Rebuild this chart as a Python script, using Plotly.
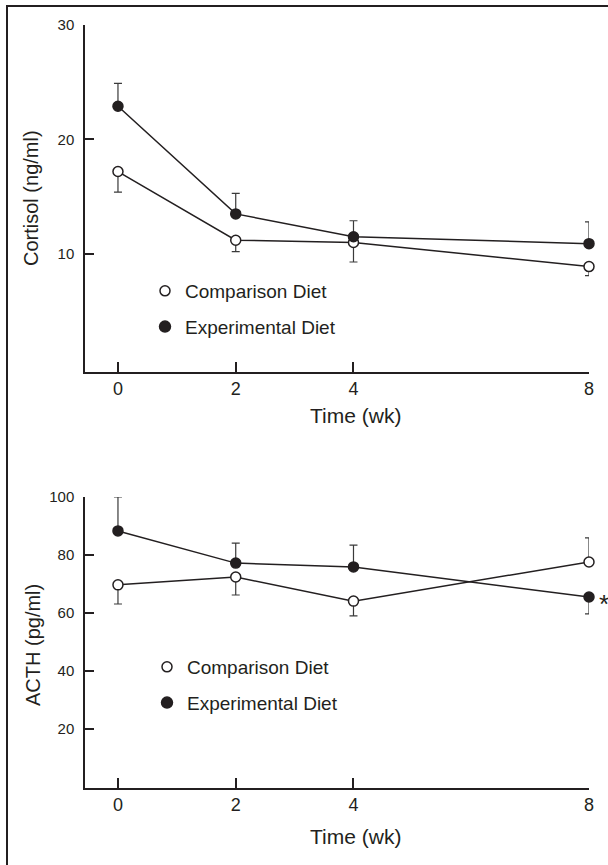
import plotly.graph_objects as go

# ---------------- data ----------------
weeks = [0, 2, 4, 8]
x_ticks = [0, 2, 4, 8]

cortisol_comp = [17.2, 11.2, 11.0, 8.9]
cortisol_comp_err_plus = [0, 0, 0, 0]
cortisol_comp_err_minus = [1.8, 1.0, 1.7, 0.8]
cortisol_exp = [22.9, 13.5, 11.5, 10.9]
cortisol_exp_err_plus = [2.0, 1.8, 1.4, 1.9]
cortisol_exp_err_minus = [0, 0, 0, 0]
cortisol_ticks = [10, 20, 30]

acth_comp = [69.7, 72.4, 64.1, 77.6]
acth_comp_err_plus = [0, 0, 0, 8.3]
acth_comp_err_minus = [6.6, 6.2, 5.1, 0]
acth_exp = [88.3, 77.2, 75.9, 65.5]
acth_exp_err_plus = [11.7, 6.9, 7.5, 0]
acth_exp_err_minus = [0, 0, 0, 5.8]
acth_ticks = [20, 40, 60, 80, 100]

series_names = ["Comparison Diet", "Experimental Diet"]

# ---------------- layout helpers ----------------
W, H = 608, 865
INK = "#231f20"
FONT = "Liberation Sans, Arial, Helvetica, sans-serif"

def px_x(p):
    return p / W

def px_y(p):
    return (H - p) / H

fig = go.Figure()

def add_series(xa, ya, y, ep, em, filled):
    fig.add_trace(go.Scatter(
        x=weeks, y=y, xaxis=xa, yaxis=ya, mode="lines+markers",
        line=dict(color=INK, width=1.5),
        marker=dict(size=10, symbol="circle",
                    color=INK if filled else "white",
                    line=dict(color=INK, width=1.5)),
        error_y=dict(type="data", symmetric=False, array=ep, arrayminus=em,
                     color="#3a3a3a", thickness=1.2, width=4),
        showlegend=False, cliponaxis=False,
    ))

add_series("x", "y", cortisol_comp, cortisol_comp_err_plus, cortisol_comp_err_minus, False)
add_series("x", "y", cortisol_exp, cortisol_exp_err_plus, cortisol_exp_err_minus, True)
add_series("x2", "y2", acth_comp, acth_comp_err_plus, acth_comp_err_minus, False)
add_series("x2", "y2", acth_exp, acth_exp_err_plus, acth_exp_err_minus, True)

# legend-only entries
for lg, xa, ya in [("legend", "x", "y"), ("legend2", "x2", "y2")]:
    for i, name in enumerate(series_names):
        filled = i == 1
        fig.add_trace(go.Scatter(
            x=[None], y=[None], xaxis=xa, yaxis=ya, mode="markers", name=name,
            marker=dict(size=11 if filled else 10, color=INK if filled else "white",
                        line=dict(color=INK, width=1.5)),
            legend=lg, legendgroup=lg + str(i), showlegend=True,
        ))

x_dom = [px_x(85), px_x(589)]
top_dom = [px_y(372), px_y(25)]
bot_dom = [px_y(788), px_y(497)]

xaxis_common = dict(
    range=[-0.56, 8], tickvals=x_ticks, ticktext=[str(v) for v in x_ticks],
    ticks="inside", ticklen=10, tickwidth=1.5, tickcolor=INK,
    showline=True, linecolor=INK, linewidth=1.5, showgrid=False, zeroline=False,
    tickfont=dict(size=18, color=INK, family=FONT), domain=x_dom, automargin=False,
)
yaxis_common = dict(
    ticks="inside", ticklen=9, tickwidth=1.5, tickcolor=INK,
    showline=True, linecolor=INK, linewidth=1.5, showgrid=False, zeroline=False,
    tickfont=dict(size=15, color=INK, family=FONT), ticklabelstandoff=6,
    automargin=False,
)

legend_common = dict(
    font=dict(size=19, color=INK, family=FONT), bgcolor="rgba(0,0,0,0)",
    borderwidth=0, itemwidth=30, tracegroupgap=8, traceorder="grouped",
    xanchor="left", yanchor="top", itemclick=False,
)

fig.update_layout(
    width=W, height=H, margin=dict(l=0, r=0, t=0, b=0, autoexpand=False),
    paper_bgcolor="white", plot_bgcolor="white",
    font=dict(family=FONT, color=INK),
    xaxis=dict(**xaxis_common, anchor="y"),
    yaxis=dict(**yaxis_common, range=[-0.31, 30], tickvals=cortisol_ticks,
               domain=top_dom, anchor="x"),
    xaxis2=dict(**xaxis_common, anchor="y2"),
    yaxis2=dict(**yaxis_common, range=[-0.34, 100], tickvals=acth_ticks,
                domain=bot_dom, anchor="x2"),
    legend=dict(**legend_common, x=px_x(145), y=px_y(272)),
    legend2=dict(**legend_common, x=px_x(147), y=px_y(648)),
    showlegend=True,
)

ann_font = dict(family=FONT, color=INK)
annotations = [
    dict(text="Cortisol (ng/ml)", x=px_x(31), y=px_y(198), textangle=-90,
         font=dict(size=20, **ann_font)),
    dict(text="ACTH (pg/ml)", x=px_x(33), y=px_y(645), textangle=-90,
         font=dict(size=20, **ann_font)),
    dict(text="Time (wk)", x=px_x(355), y=px_y(415), font=dict(size=21, **ann_font)),
    dict(text="Time (wk)", x=px_x(355), y=px_y(836), font=dict(size=21, **ann_font)),
]
for a in annotations:
    a.update(xref="paper", yref="paper", showarrow=False, xanchor="center", yanchor="middle")
    fig.add_annotation(**a)

# significance asterisk next to last Experimental ACTH point
fig.add_annotation(text="*", xref="x2", yref="y2", x=weeks[-1], y=acth_exp[-1],
                   xshift=8, yshift=-7, xanchor="left", yanchor="middle", showarrow=False,
                   font=dict(size=26, **ann_font))

# outer frame (only left and top edges fall inside the picture)
fig.add_shape(type="rect", xref="paper", yref="paper",
              x0=px_x(7), y0=-0.05, x1=1.05, y1=px_y(6),
              line=dict(color=INK, width=2), fillcolor="rgba(0,0,0,0)", layer="below")

pin_page = (
    "document.body.style.margin='0';"
    "document.documentElement.style.overflow='hidden';"
    "var d=document.getElementById('{plot_id}');"
    "d.style.position='fixed';d.style.left='0px';d.style.top='0px';"
)
fig.write_html("out.html", config={"displayModeBar": False}, post_script=pin_page)
